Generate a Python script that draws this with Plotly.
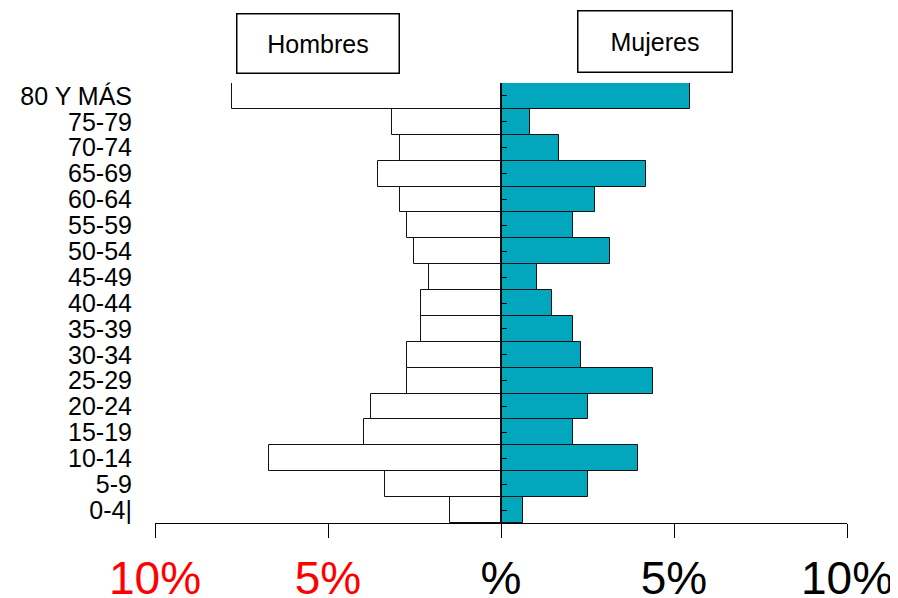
import plotly.graph_objects as go

age_groups = ["0-4|", "5-9", "10-14", "15-19", "20-24", "25-29", "30-34", "35-39",
              "40-44", "45-49", "50-54", "55-59", "60-64", "65-69", "70-74", "75-79", "80 Y MÁS"]
hombres = [1.47, 3.34, 6.70, 3.97, 3.77, 2.71, 2.71, 2.30,
           2.30, 2.08, 2.51, 2.72, 2.93, 3.55, 2.93, 3.14, 7.77]
mujeres = [0.63, 2.52, 3.97, 2.09, 2.52, 4.40, 2.30, 2.09,
           1.47, 1.05, 3.15, 2.09, 2.73, 4.19, 1.69, 0.85, 5.45]
tick_vals = [-10, -5, 0, 5, 10]
tick_text = ["<span style='color:red'>10%</span>", "<span style='color:red'>5%</span>",
             "%", "5%", "10%"]

# page body has an 8px margin, so the figure is laid out in page pixels minus 8
OFF = 8
W, H = 890, 590
L, T = 155 - OFF, 83 - OFF
R = W - (847 - OFF)
B = H - (523 - OFF)
pw, ph = W - L - R, H - T - B

def px(xp):
    return (xp - OFF - L) / pw

def py(yp):
    return (H - B - (yp - OFF)) / ph

fig = go.Figure()
fig.add_trace(go.Bar(
    y=list(range(len(age_groups))), x=[-v for v in hombres], orientation="h",
    marker=dict(color="white", line=dict(color="#111111", width=1)),
    name="Hombres", showlegend=False, hoverinfo="skip"))
fig.add_trace(go.Bar(
    y=list(range(len(age_groups))), x=mujeres, orientation="h",
    marker=dict(color="#03A7BD", line=dict(color="#111111", width=1)),
    name="Mujeres", showlegend=False, hoverinfo="skip"))

fig.update_layout(
    width=W, height=H,
    margin=dict(l=L, r=R, t=T, b=B, pad=0, autoexpand=False),
    paper_bgcolor="white", plot_bgcolor="white",
    barmode="relative", bargap=0,
    font=dict(family="Liberation Sans, Arial, sans-serif", color="black"),
    xaxis=dict(range=[-10, 10], tickvals=tick_vals, ticktext=tick_text,
               showgrid=False, zeroline=False, showline=True, linecolor="black",
               linewidth=1, ticks="outside", ticklen=14, tickcolor="black",
               tickfont=dict(size=46, family="Liberation Sans, Arial, sans-serif"),
               ticklabelstandoff=1, automargin=False),
    yaxis=dict(range=[-0.5, len(age_groups) - 0.5], tickvals=list(range(len(age_groups))),
               ticktext=age_groups, showgrid=False, zeroline=False, showline=False,
               ticks="", tickfont=dict(size=25), ticklabelstandoff=22, automargin=False),
    yaxis2=dict(range=[-0.5, len(age_groups) - 0.5], tickvals=list(range(len(age_groups))),
                overlaying="y", anchor="free", position=0.5, side="left",
                showline=True, linecolor="black", linewidth=1,
                ticks="inside", ticklen=5, tickcolor="black", showticklabels=False,
                showgrid=False, zeroline=False, automargin=False),
)
# invisible trace to activate yaxis2
fig.add_trace(go.Scatter(x=[0], y=[0], yaxis="y2", mode="markers",
                         marker=dict(opacity=0), showlegend=False, hoverinfo="skip"))

fig.add_annotation(text="Hombres", xref="paper", yref="paper",
                   x=px((236 + 399) / 2), y=py(43), xanchor="center", yanchor="middle",
                   showarrow=False, font=dict(size=25), width=161, height=58,
                   bordercolor="black", borderwidth=1.5, borderpad=0, bgcolor="white")
fig.add_annotation(text="Mujeres", xref="paper", yref="paper",
                   x=px((577 + 732) / 2), y=py(41), xanchor="center", yanchor="middle",
                   showarrow=False, font=dict(size=25), width=153, height=60,
                   bordercolor="black", borderwidth=1.5, borderpad=0, bgcolor="white")

fig.write_html("out.html")
